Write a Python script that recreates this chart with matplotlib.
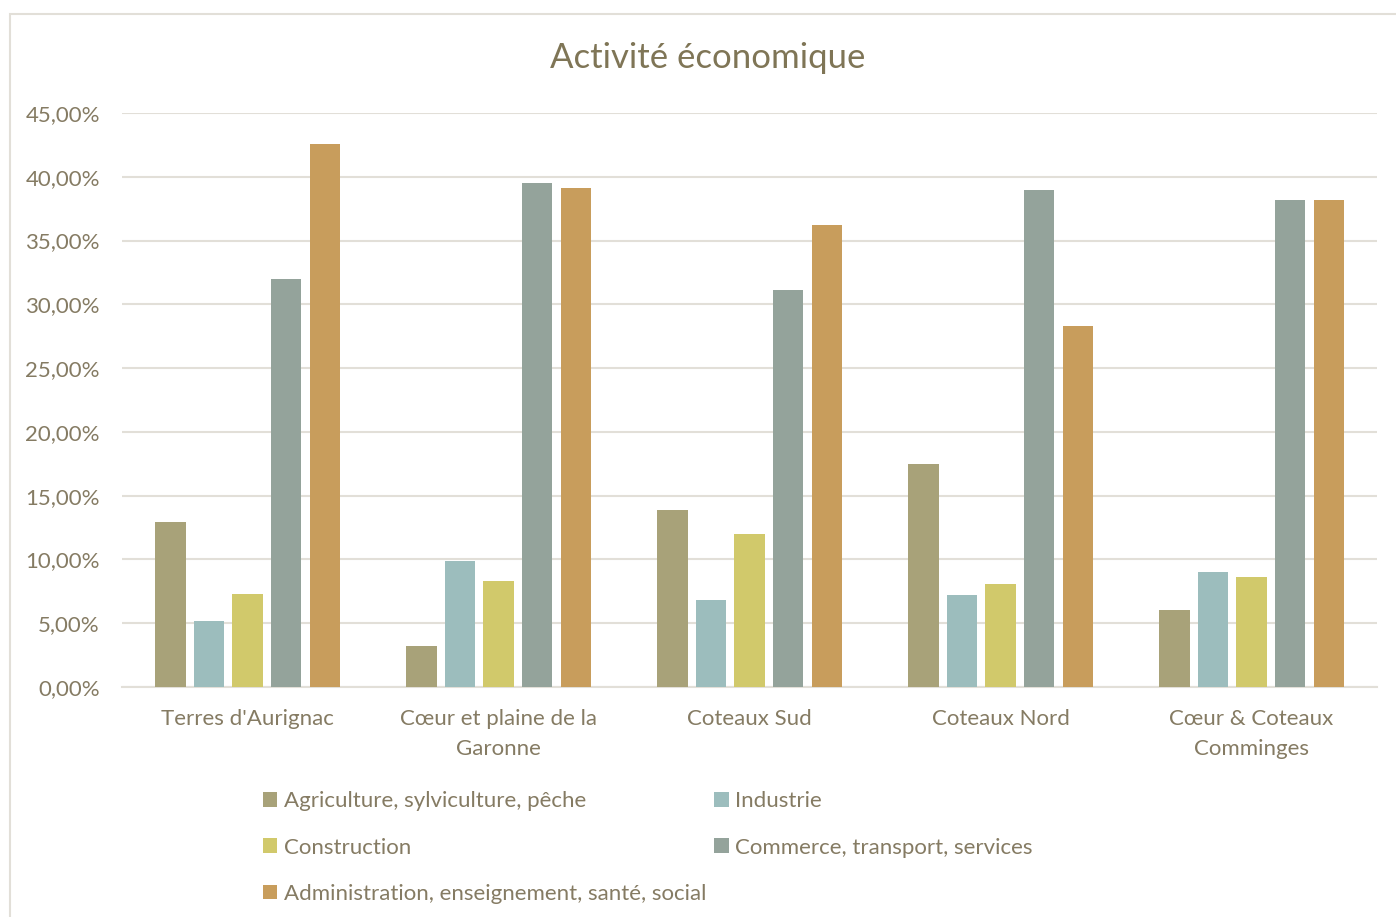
import numpy as np
import matplotlib.pyplot as plt
from matplotlib.patches import Rectangle

plt.rcParams["font.family"] = ["Lato", "DejaVu Sans"]

territoires = ["Terres d'Aurignac", "Cœur et plaine de la\nGaronne", "Coteaux Sud",
               "Coteaux Nord", "Cœur & Coteaux\nComminges"]
secteurs = ["Agriculture, sylviculture, pêche", "Industrie", "Construction",
            "Commerce, transport, services", "Administration, enseignement, santé, social"]

agriculture = [12.9, 3.2, 13.9, 17.5, 6.0]
industrie = [5.2, 9.9, 6.8, 7.2, 9.0]
construction = [7.3, 8.3, 12.0, 8.1, 8.6]
commerce = [32.0, 39.5, 31.1, 39.0, 38.2]
administration = [42.6, 39.1, 36.2, 28.3, 38.2]

series = [agriculture, industrie, construction, commerce, administration]
couleurs = ["#A8A279", "#9CBDBD", "#D1C96B", "#94A39B", "#C89D5C"]

TXT = "#857B63"
GRID = "#E2DFD8"

fig = plt.figure(figsize=(13.96, 9.17), dpi=100)
ax = fig.add_axes([0.0874, 0.2508, 0.899, 0.626])

x = np.arange(len(territoires))
width = 0.12
step = 0.1535
bars = []
for i, (vals, c) in enumerate(zip(series, couleurs)):
    b = ax.bar(x + (i - 2) * step, vals, width=width, color=c, label=secteurs[i], zorder=3)
    bars.append(b)

ax.set_xlim(-0.5, 4.5)
ax.set_ylim(0, 45)
ax.set_yticks(np.arange(0, 46, 5))
ax.set_yticklabels([f"{v:.2f}%".replace(".", ",") for v in np.arange(0, 46, 5)])
ax.set_xticks(x)
ax.set_xticklabels(territoires, linespacing=1.6)
ax.tick_params(axis="both", length=0, labelsize=16, colors=TXT)
ax.tick_params(axis="y", pad=16)
ax.tick_params(axis="x", pad=16)
ax.grid(axis="y", color=GRID, linewidth=1.5, zorder=0)
for s in ["top", "right", "left"]:
    ax.spines[s].set_visible(False)
ax.spines["bottom"].set_color(GRID)
ax.spines["bottom"].set_linewidth(1.5)

fig.text(0.507, 0.937, "Activité économique", ha="center", va="center",
         fontsize=25, color="#7F7556")

# legend: row-major order as in the original
order = [0, 2, 4, 1, 3]
leg = fig.legend([bars[i] for i in order], [secteurs[i] for i in order],
                 ncol=2, loc="upper left", bbox_to_anchor=(0.1884, 0.137),
                 frameon=False, fontsize=16, handlelength=0.65, handleheight=0.65,
                 handletextpad=0.3, labelspacing=1.18, columnspacing=0.35,
                 borderpad=0, borderaxespad=0)
for t in leg.get_texts():
    t.set_color(TXT)

fig.patches.append(Rectangle((10 / 1396, -0.1), 2, (917 - 14) / 917 + 0.1,
                             transform=fig.transFigure, fill=False,
                             edgecolor=GRID, linewidth=1.5))

fig.savefig("out.png", dpi=100)
